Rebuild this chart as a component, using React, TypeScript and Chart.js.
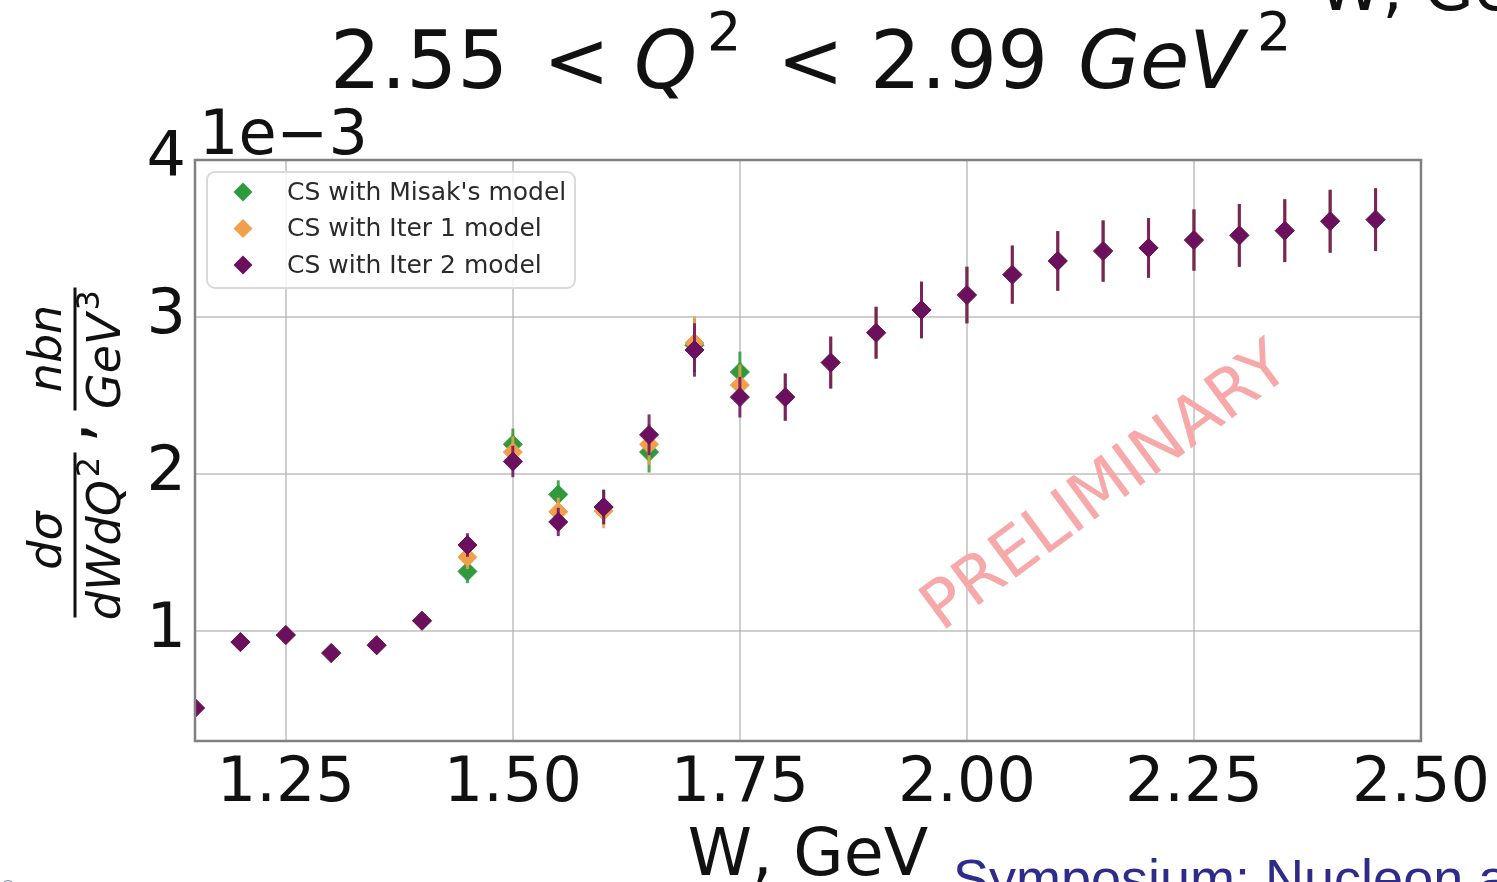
import { useEffect, useRef } from "react";
import { Chart, registerables } from "chart.js";

Chart.register(...registerables);

// W bins (GeV)
const W_BINS = [1.15, 1.2, 1.25, 1.3, 1.35, 1.4, 1.45, 1.5, 1.55, 1.6, 1.65, 1.7, 1.75, 1.8, 1.85, 1.9, 1.95, 2.0, 2.05, 2.1, 2.15, 2.2, 2.25, 2.3, 2.35, 2.4, 2.45];

// dσ/dWdQ² in units of 1e-3 nb/GeV³
const CS_MISAK = [0.51, 0.93, 0.975, 0.86, 0.91, 1.066, 1.38, 2.19, 1.87, 1.79, 2.14, 2.82, 2.65, 2.49, 2.71, 2.9, 3.045, 3.14, 3.27, 3.357, 3.42, 3.44, 3.49, 3.52, 3.55, 3.61, 3.62];
const CS_ITER1 = [0.51, 0.93, 0.975, 0.86, 0.91, 1.066, 1.47, 2.14, 1.76, 1.765, 2.19, 2.835, 2.567, 2.49, 2.71, 2.9, 3.045, 3.14, 3.27, 3.357, 3.42, 3.44, 3.49, 3.52, 3.55, 3.61, 3.62];
const CS_ITER2 = [0.51, 0.93, 0.975, 0.86, 0.91, 1.066, 1.548, 2.08, 1.695, 1.79, 2.25, 2.79, 2.49, 2.49, 2.71, 2.9, 3.045, 3.14, 3.27, 3.357, 3.42, 3.44, 3.49, 3.52, 3.55, 3.61, 3.62];
// statistical uncertainty, same units
const CS_ERR = [0.03, 0.03, 0.03, 0.03, 0.04, 0.04, 0.075, 0.1, 0.09, 0.11, 0.13, 0.17, 0.13, 0.15, 0.165, 0.165, 0.18, 0.18, 0.185, 0.19, 0.195, 0.19, 0.195, 0.2, 0.2, 0.2, 0.2];

const SERIES_LABELS = ["CS with Misak's model", "CS with Iter 1 model", "CS with Iter 2 model"];
const SERIES_COLORS = ["#2f9a3c", "#f0a04b", "#6b0f5f"];

const X_TICKS = [1.25, 1.5, 1.75, 2.0, 2.25, 2.5];
const Y_TICKS = [1, 2, 3, 4];

const FONT = "'DejaVu Sans', sans-serif";
const GRID = "rgba(175,175,175,0.6)";

function diamond(ctx: CanvasRenderingContext2D, x: number, y: number, r: number, color: string) {
  ctx.beginPath();
  ctx.moveTo(x, y - r);
  ctx.lineTo(x + r, y);
  ctx.lineTo(x, y + r);
  ctx.lineTo(x - r, y);
  ctx.closePath();
  ctx.fillStyle = color;
  ctx.fill();
}

// vertical error bars, drawn just before each dataset's markers
const errorBarPlugin = {
  id: "errorBars",
  beforeDatasetDraw(chart: any, args: any) {
    const ds = chart.data.datasets[args.index];
    const errs: number[] = ds.errorBars;
    if (!errs) return;
    const { ctx, chartArea } = chart;
    const xs = chart.scales.x;
    const ys = chart.scales.y;
    ctx.save();
    ctx.beginPath();
    ctx.rect(chartArea.left, chartArea.top, chartArea.right - chartArea.left, chartArea.bottom - chartArea.top);
    ctx.clip();
    ctx.strokeStyle = ds.borderColor;
    ctx.globalAlpha = 0.85;
    ctx.lineWidth = 3;
    ds.data.forEach((p: any, i: number) => {
      const x = xs.getPixelForValue(p.x);
      ctx.beginPath();
      ctx.moveTo(x, ys.getPixelForValue(p.y - errs[i]));
      ctx.lineTo(x, ys.getPixelForValue(p.y + errs[i]));
      ctx.stroke();
    });
    ctx.restore();
  },
};

// frame, legend, labels and annotations
const decorPlugin = {
  id: "decor",
  afterDatasetsDraw(chart: any) {
    const { ctx, chartArea } = chart;
    const { left, top, right, bottom } = chartArea;
    ctx.save();

    // axes frame
    ctx.strokeStyle = "#808080";
    ctx.lineWidth = 2.5;
    ctx.strokeRect(left, top, right - left, bottom - top);

    // legend
    ctx.beginPath();
    (ctx as any).roundRect(207, 172, 368, 116, 8);
    ctx.fillStyle = "rgba(255,255,255,0.85)";
    ctx.fill();
    ctx.strokeStyle = "#dadada";
    ctx.lineWidth = 2;
    ctx.stroke();
    ctx.font = `25px ${FONT}`;
    ctx.textBaseline = "middle";
    ctx.textAlign = "left";
    SERIES_LABELS.forEach((lab, i) => {
      const y = 192 + i * 36.5;
      diamond(ctx, 243, y, 9.5, SERIES_COLORS[i]);
      ctx.fillStyle = "#2a2a2a";
      ctx.fillText(lab, 287, y + 1);
    });

    // watermark
    ctx.save();
    ctx.translate(1107, 489);
    ctx.rotate((-36.4 * Math.PI) / 180);
    ctx.font = `66px ${FONT}`;
    ctx.textAlign = "center";
    ctx.textBaseline = "middle";
    ctx.fillStyle = "#f7a8a8";
    ctx.fillText("PRELIMINARY", 0, 0);
    ctx.restore();

    ctx.fillStyle = "#111";
    ctx.textBaseline = "alphabetic";
    ctx.textAlign = "left";

    // title: 2.55 < Q² < 2.99 GeV²
    const reg = `80px ${FONT}`;
    const ita = `italic 80px ${FONT}`;
    const sup = `54px ${FONT}`;
    const tb = 88;
    ctx.font = reg;
    ctx.fillText("2.55", 330, tb);
    ctx.fillText("<", 543, tb);
    ctx.font = ita;
    ctx.fillText("Q", 634, tb);
    ctx.font = sup;
    ctx.fillText("2", 707, 50);
    ctx.font = reg;
    ctx.fillText("<", 777, tb);
    ctx.fillText("2.99", 870, tb);
    ctx.font = ita;
    ctx.fillText("GeV", 1078, tb);
    ctx.font = sup;
    ctx.fillText("2", 1257, 50);

    // offset text
    ctx.font = `62px ${FONT}`;
    ctx.fillText("1e\u22123", 199, 154);

    // x axis title
    ctx.font = `65px ${FONT}`;
    ctx.textAlign = "center";
    ctx.fillText("W, GeV", (left + right) / 2, 875);

    // y axis title: dσ/dWdQ², nbn/GeV³
    ctx.save();
    ctx.translate(75, (top + bottom) / 2);
    ctx.rotate(-Math.PI / 2);
    ctx.fillRect(-167, -1.5, 165, 3);
    ctx.fillRect(40, -1.5, 123, 3);
    const fit = `italic 46px ${FONT}`;
    const fsup = `32px ${FONT}`;
    ctx.textAlign = "center";
    ctx.font = fit;
    ctx.fillText("d\u03c3", -90, -14);
    ctx.fillText("nbn", 102, -14);
    // denominators with exponents
    const drawDen = (base: string, exp: string, cu: number) => {
      ctx.font = fit;
      const wb = ctx.measureText(base).width;
      ctx.font = fsup;
      const we = ctx.measureText(exp).width;
      const start = cu - (wb + we + 3) / 2;
      ctx.textAlign = "left";
      ctx.font = fit;
      ctx.fillText(base, start, 45);
      ctx.font = fsup;
      ctx.fillText(exp, start + wb + 3, 24);
      ctx.textAlign = "center";
    };
    drawDen("dWdQ", "2", -88);
    drawDen("GeV", "3", 101);
    ctx.font = `65px ${FONT}`;
    ctx.fillText(",", 18, 14);
    ctx.restore();

    // neighbouring slide content
    ctx.textAlign = "left";
    ctx.font = `65px ${FONT}`;
    ctx.fillStyle = "#111";
    ctx.fillText("W, GeV", 1318, 10);
    ctx.font = "54px 'Liberation Sans', Arial, sans-serif";
    ctx.fillStyle = "#2e2b8a";
    ctx.fillText("Symposium: Nucleon a", 953, 897);
    ctx.font = "16px 'DejaVu Sans'";
    ctx.fillStyle = "#7a86a0";
    ctx.fillText("\u00ae", 0, 892);

    ctx.restore();
  },
};

export default function App() {
  const ref = useRef<HTMLCanvasElement>(null);

  useEffect(() => {
    document.body.style.margin = "0";
    const canvas = ref.current;
    if (!canvas) return;
    const seriesValues = [CS_MISAK, CS_ITER1, CS_ITER2];
    const chart = new Chart(canvas, {
      type: "scatter",
      data: {
        datasets: seriesValues.map((vals, k) => ({
          label: SERIES_LABELS[k],
          data: W_BINS.map((w, i) => ({ x: w, y: vals[i] })),
          errorBars: CS_ERR,
          backgroundColor: SERIES_COLORS[k],
          borderColor: SERIES_COLORS[k],
          pointStyle: "rectRot",
          pointRadius: 9.5,
          pointBorderWidth: 1,
          order: 3 - k,
          clip: 0,
        })) as any,
      },
      options: {
        animation: false,
        responsive: false,
        devicePixelRatio: 1,
        events: [],
        layout: { padding: { top: 160, right: 76, bottom: 0, left: 0 } },
        plugins: {
          legend: { display: false },
          tooltip: { enabled: false },
          title: { display: false },
        },
        scales: {
          x: {
            type: "linear",
            min: 1.15,
            max: 2.5,
            afterBuildTicks: (s: any) => {
              s.ticks = X_TICKS.map((v) => ({ value: v }));
            },
            afterFit: (s: any) => {
              s.height = 141;
            },
            grid: { color: GRID, lineWidth: 2, drawTicks: false },
            border: { display: false },
            ticks: {
              autoSkip: false,
              maxRotation: 0,
              padding: 7,
              color: "#111",
              font: { family: "DejaVu Sans", size: 62 },
              callback: (v: any) => Number(v).toFixed(2),
            },
          },
          y: {
            type: "linear",
            min: 0.3,
            max: 4,
            afterBuildTicks: (s: any) => {
              s.ticks = Y_TICKS.map((v) => ({ value: v }));
            },
            afterFit: (s: any) => {
              s.width = 195;
            },
            grid: { color: GRID, lineWidth: 2, drawTicks: false },
            border: { display: false },
            ticks: {
              autoSkip: false,
              padding: 9,
              color: "#111",
              font: { family: "DejaVu Sans", size: 62 },
              callback: (v: any) => String(v),
            },
          },
        },
      },
      plugins: [errorBarPlugin, decorPlugin],
    });
    return () => chart.destroy();
  }, []);

  return (
    <div style={{ position: "absolute", left: 0, top: 0, width: 1497, height: 882, background: "#fff" }}>
      <canvas ref={ref} width={1497} height={882} />
    </div>
  );
}
